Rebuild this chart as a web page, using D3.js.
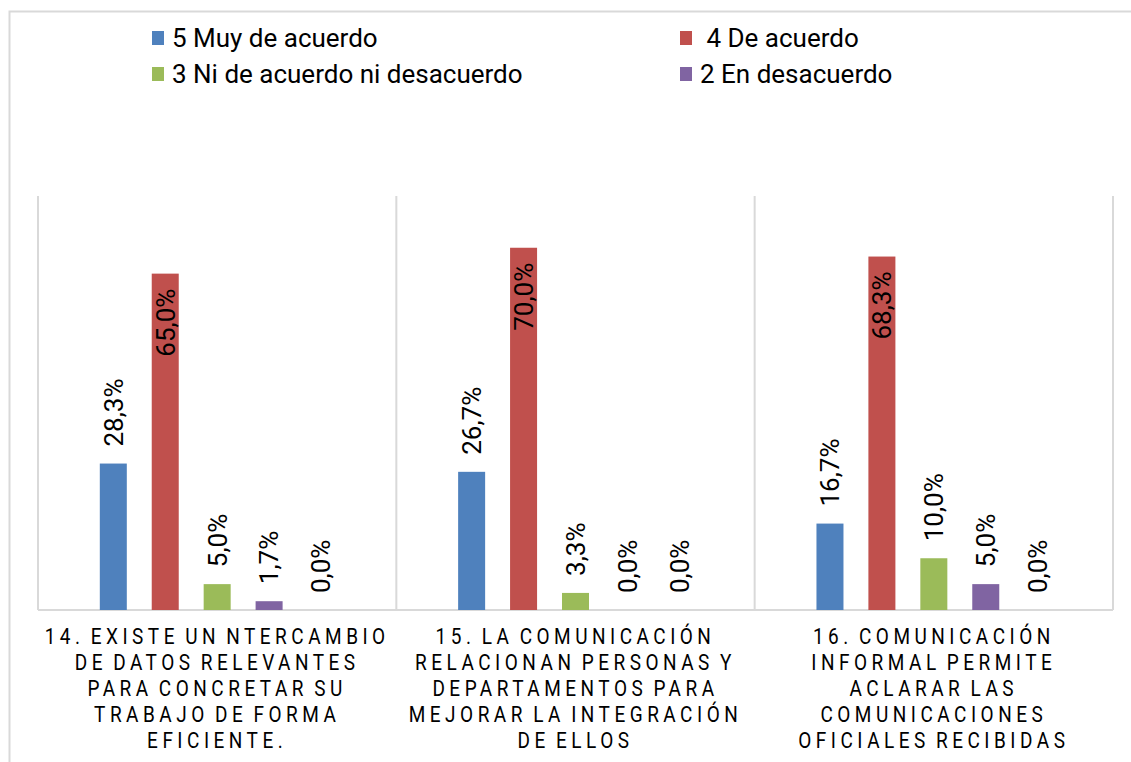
<!DOCTYPE html>
<html>
<head>
<meta charset="utf-8">
<script src="https://cdn.jsdelivr.net/npm/d3@7"></script>
<style>
  body { margin: 0; background: #fff; }
  text { font-family: Roboto, "Noto Sans", sans-serif; fill: #000; }
</style>
</head>
<body>
<div id="container"></div>
<script>
/* CONSTANTS AND GLOBALS */
const width = 1131,
  height = 762,
  margin = {top: 196, right: 18, bottom: 152, left: 38};

const colors = ["#4F81BD", "#C0504D", "#9BBB59", "#8064A2", "#F79646"];

// categories (x axis) - each line of the wrapped label
const categories = ["14", "15", "16"];
const categoryLines = [
  ["14. EXISTE UN NTERCAMBIO", "DE DATOS RELEVANTES", "PARA CONCRETAR SU", "TRABAJO DE FORMA", "EFICIENTE."],
  ["15. LA COMUNICACIÓN", "RELACIONAN PERSONAS Y", "DEPARTAMENTOS PARA", "MEJORAR LA INTEGRACIÓN", "DE ELLOS"],
  ["16. COMUNICACIÓN", "INFORMAL PERMITE", "ACLARAR LAS", "COMUNICACIONES", "OFICIALES RECIBIDAS"]
];

// series
const seriesNames = ["5 Muy de acuerdo", " 4 De acuerdo", "3 Ni de acuerdo ni desacuerdo", "2 En desacuerdo", "1 Totalmente en desacuerdo"];
const muyDeAcuerdo = [28.3, 26.7, 16.7];
const deAcuerdo = [65.0, 70.0, 68.3];
const niDeAcuerdo = [5.0, 3.3, 10.0];
const enDesacuerdo = [1.7, 0.0, 5.0];
const totalDesacuerdo = [0.0, 0.0, 0.0];
const seriesValues = [muyDeAcuerdo, deAcuerdo, niDeAcuerdo, enDesacuerdo, totalDesacuerdo];

const svg = d3.select("#container")
  .append("svg")
  .attr("width", width)
  .attr("height", height);

// outer chart frame (cropped on the right/bottom in the picture)
svg.append("rect")
  .attr("x", 9.5).attr("y", 11.5)
  .attr("width", 1200).attr("height", 900)
  .attr("fill", "none")
  .attr("stroke", "#d9d9d9")
  .attr("stroke-width", 2);

/* SCALES */
const x0 = d3.scaleBand()
  .domain(categories)
  .range([margin.left, width - margin.right]);

const x1 = d3.scaleBand()
  .domain(d3.range(seriesNames.length))
  .range([0, x0.bandwidth()])
  .paddingInner(0.48)
  .paddingOuter(1.19);

const yScale = d3.scaleLinear()
  .domain([0, 80])
  .range([height - margin.bottom, margin.top]);

// vertical separators between categories
const seps = [margin.left].concat(categories.map(c => x0(c) + x0.bandwidth()));
svg.selectAll("line.sep")
  .data(seps)
  .join("line")
  .attr("class", "sep")
  .attr("x1", d => d).attr("x2", d => d)
  .attr("y1", yScale(80)).attr("y2", yScale(0))
  .attr("stroke", "#d9d9d9")
  .attr("stroke-width", 2);

// baseline
svg.append("line")
  .attr("x1", margin.left).attr("x2", width - margin.right)
  .attr("y1", yScale(0)).attr("y2", yScale(0))
  .attr("stroke", "#d9d9d9")
  .attr("stroke-width", 2);

// flatten data
const data = [];
seriesValues.forEach((vals, s) => {
  vals.forEach((v, i) => data.push({cat: categories[i], s: s, value: v}));
});

svg.selectAll("rect.bar")
  .data(data.filter(d => d.value > 0))
  .join("rect")
  .attr("class", "bar")
  .attr("x", d => x0(d.cat) + x1(d.s))
  .attr("width", x1.bandwidth())
  .attr("y", d => yScale(d.value))
  .attr("height", d => yScale(0) - yScale(d.value))
  .attr("fill", d => colors[d.s]);

// data labels (rotated)
const fmt = v => v.toFixed(1).replace(".", ",") + "%";
svg.selectAll("text.lbl")
  .data(data)
  .join("text")
  .attr("class", "lbl")
  .attr("transform", d => {
    const cx = x0(d.cat) + x1(d.s) + x1.bandwidth() / 2;
    const yy = d.s === 1 ? yScale(d.value) + 15 : yScale(d.value) - 17;
    return `translate(${cx},${yy}) rotate(-90)`;
  })
  .attr("text-anchor", d => d.s === 1 ? "end" : "start")
  .attr("dy", "0.36em")
  .style("font-size", "26px")
  .text(d => fmt(d.value));

// category labels
const catG = svg.selectAll("g.cat")
  .data(categories)
  .join("g")
  .attr("class", "cat");

catG.selectAll("text")
  .data((d, i) => categoryLines[i].map((t, j) => ({t: t, j: j, c: d})))
  .join("text")
  .attr("transform", d => `translate(${x0(d.c) + x0.bandwidth() / 2},${644 + d.j * 26}) scale(1,1.2)`)
  .attr("text-anchor", "middle")
  .style("font-size", "19px")
  .style("letter-spacing", "4.5px")
  .style("word-spacing", "-3px")
  .text(d => d.t);

// legend (only four entries visible in the picture)
const legendPos = [[152, 38], [680, 38], [152, 74], [680, 74]];
const legend = svg.selectAll("g.legend")
  .data(seriesNames.slice(0, 4))
  .join("g")
  .attr("class", "legend")
  .attr("transform", (d, i) => `translate(${legendPos[i][0]},${legendPos[i][1]})`);

legend.append("rect")
  .attr("x", 0).attr("y", -7)
  .attr("width", 12).attr("height", 14)
  .attr("fill", (d, i) => colors[i]);

legend.append("text")
  .attr("x", 20)
  .attr("dy", "0.36em")
  .style("font-size", "26px")
  .style("white-space", "pre")
  .text(d => d);
</script>
</body>
</html>
